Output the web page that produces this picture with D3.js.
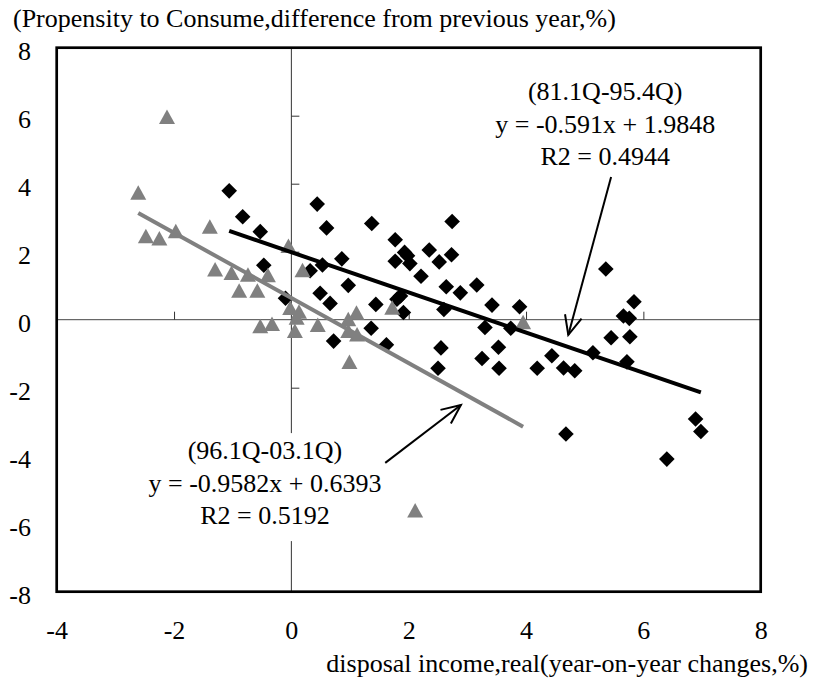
<!DOCTYPE html>
<html>
<head>
<meta charset="utf-8">
<script src="https://cdn.jsdelivr.net/npm/d3@7"></script>
<style>
  html, body { margin: 0; padding: 0; background: #fff; }
  svg text { font-family: "Liberation Serif", "Times New Roman", serif; fill: #000; }
</style>
</head>
<body>
<svg id="chart" width="815" height="680"></svg>
<script>
// ---- data ----
const xTicks = [-4, -2, 0, 2, 4, 6, 8];
const yTicks = [-8, -6, -4, -2, 0, 2, 4, 6, 8];

// 81.1Q-95.4Q : [real disposable income change, propensity to consume change]
const period1 = [
  [-1.06, 3.79], [-0.83, 3.03], [-0.53, 2.59], [-0.47, 1.60], [0.44, 3.40], [0.60, 2.70],
  [0.32, 1.44], [0.53, 1.61], [0.86, 1.79], [-0.10, 0.63], [0.49, 0.78], [0.66, 0.48],
  [0.72, -0.63], [1.37, 2.83], [2.74, 2.89], [1.77, 2.35], [1.93, 1.98], [1.98, 1.88],
  [1.77, 1.72], [2.02, 1.65], [2.35, 2.05], [2.52, 1.70], [2.73, 1.91], [2.21, 1.28],
  [0.97, 1.01], [1.44, 0.45], [1.80, 0.60], [1.86, 0.70], [1.91, 0.21], [2.64, 0.97],
  [2.88, 0.79], [3.16, 1.02], [2.60, 0.30], [3.42, 0.43], [3.89, 0.38], [3.30, -0.23],
  [3.74, -0.25], [1.36, -0.25], [1.62, -0.74], [2.55, -0.83], [3.53, -0.81], [2.50, -1.43],
  [3.25, -1.14], [3.54, -1.43], [4.19, -1.43], [4.44, -1.06], [4.64, -1.42], [4.83, -1.50],
  [4.68, -3.36], [5.36, 1.49], [5.84, 0.53], [5.66, 0.11], [5.76, 0.04], [5.45, -0.53],
  [5.77, -0.50], [5.14, -0.97], [5.72, -1.24], [6.89, -2.92], [6.98, -3.29], [6.40, -4.10]
];

// 96.1Q-03.1Q
const period2 = [
  [-2.12, 5.95], [-2.61, 3.72], [-2.48, 2.44], [-2.25, 2.37], [-1.97, 2.59], [-1.39, 2.72],
  [-1.30, 1.46], [-1.02, 1.36], [-0.74, 1.31], [-0.40, 1.29], [-0.89, 0.84], [-0.58, 0.84],
  [-0.05, 2.15], [0.19, 1.44], [-0.02, 0.33], [0.13, 0.22], [0.09, 0.04], [-0.53, -0.21],
  [-0.33, -0.14], [0.06, -0.35], [0.45, -0.17], [0.97, 0.00], [1.11, 0.19], [0.97, -0.35],
  [1.12, -0.45], [0.99, -1.26], [1.72, 0.34], [3.95, -0.09], [2.11, -5.63]
];

const seriesNames = ["(81.1Q-95.4Q)", "(96.1Q-03.1Q)"];
const slopes = [-0.591, -0.9582];
const intercepts = [1.9848, 0.6393];
const r2 = [0.4944, 0.5192];

const yTitle = "(Propensity to Consume,difference from previous year,%)";
const xTitle = "disposal income,real(year-on-year changes,%)";

// ---- layout ----
const svg = d3.select("#chart");
const L = 56.7, R = 760.7, T = 47.7, B = 591.7;
const x = d3.scaleLinear().domain([-4, 8]).range([L, R]);
const y = d3.scaleLinear().domain([-8, 8]).range([B, T]);
const FS = 26;
const SERIF = '"Liberation Serif", "Times New Roman", serif';

// y title
svg.append("text").attr("x", 13).attr("y", 27).attr("font-size", FS).text(yTitle);

// inner zero axes
svg.append("line").attr("x1", x(0)).attr("x2", x(0)).attr("y1", T).attr("y2", B)
  .attr("stroke", "#333").attr("stroke-width", 1);
svg.append("line").attr("x1", L).attr("x2", R).attr("y1", y(0)).attr("y2", y(0))
  .attr("stroke", "#444").attr("stroke-width", 1);

const vAx = svg.append("g").attr("transform", `translate(${x(0)},0)`)
  .call(d3.axisRight(y).tickValues(yTicks.filter(v => v !== 0 && Math.abs(v) !== 8)).tickSize(8).tickFormat(""));
vAx.select(".domain").remove();
vAx.selectAll("line").attr("stroke", "#333");
const hAx = svg.append("g").attr("transform", `translate(0,${y(0)})`)
  .call(d3.axisTop(x).tickValues(xTicks.filter(v => v !== 0 && v !== -4 && v !== 8)).tickSize(8).tickFormat(""));
hAx.select(".domain").remove();
hAx.selectAll("line").attr("stroke", "#333");

// tick labels
const fmtTick = d => String(d);
const yLab = svg.append("g").attr("transform", `translate(31,3)`)
  .call(d3.axisLeft(y).tickValues(yTicks).tickSize(0).tickPadding(0).tickFormat(fmtTick));
yLab.attr("font-family", SERIF).attr("font-size", FS);
yLab.select(".domain").remove();
yLab.selectAll("text").attr("dy", "0.34em").attr("fill", "#000");

const xLab = svg.append("g").attr("transform", `translate(0,${B})`)
  .call(d3.axisBottom(x).tickValues(xTicks).tickSize(0).tickPadding(0).tickFormat(fmtTick));
xLab.attr("font-family", SERIF).attr("font-size", FS);
xLab.select(".domain").remove();
xLab.selectAll("text").attr("y", 47).attr("dy", 0).attr("fill", "#000");

// x title
svg.append("text").attr("x", 808).attr("y", 672).attr("text-anchor", "end")
  .attr("font-size", FS).text(xTitle);

// markers
const diamond = "M0,-7.8L7.8,0L0,7.8L-7.8,0Z";
const triangle = "M0,-8L8,6.5L-8,6.5Z";

svg.append("g").selectAll("path").data(period1).join("path")
  .attr("d", diamond)
  .attr("transform", d => `translate(${x(d[0])},${y(d[1])})`)
  .attr("fill", "#000");

svg.append("g").selectAll("path").data(period2).join("path")
  .attr("d", triangle)
  .attr("transform", d => `translate(${x(d[0])},${y(d[1])})`)
  .attr("fill", "#808080");

// trend lines
[period1, period2].forEach((pts, i) => {
  const ext = d3.extent(pts, d => d[0]);
  svg.append("line")
    .attr("x1", x(ext[0])).attr("y1", y(slopes[i] * ext[0] + intercepts[i]))
    .attr("x2", x(ext[1])).attr("y2", y(slopes[i] * ext[1] + intercepts[i]))
    .attr("stroke", i === 0 ? "#000" : "#808080")
    .attr("stroke-width", 4);
});

// annotation text boxes
const fmtEq = (m, b) => `y = ${m}x + ${b}`;
const boxes = [
  { cx: 5.35, y0: 6.46, i: 0 },
  { cx: -0.45, y0: -4.10, i: 1 }
];
boxes.forEach(bx => {
  const lines = [seriesNames[bx.i], fmtEq(slopes[bx.i], intercepts[bx.i]), `R2 = ${r2[bx.i]}`];
  const cx = x(bx.cx), by = y(bx.y0);
  svg.append("rect").attr("x", cx - 128).attr("y", by - 26).attr("width", 256).attr("height", 108)
    .attr("fill", "#fff");
  lines.forEach((t, k) => {
    svg.append("text").attr("x", cx).attr("y", by + k * 32.5).attr("text-anchor", "middle")
      .attr("font-size", FS).text(t);
  });
});

// arrows
const arrows = [
  { from: [5.45, 4.20], to: [4.72, -0.45] },
  { from: [1.60, -4.21], to: [2.89, -2.51] }
];
arrows.forEach(a => {
  const x1 = x(a.from[0]), y1 = y(a.from[1]), x2 = x(a.to[0]), y2 = y(a.to[1]);
  svg.append("line").attr("x1", x1).attr("y1", y1).attr("x2", x2).attr("y2", y2)
    .attr("stroke", "#000").attr("stroke-width", 2);
  const ang = Math.atan2(y2 - y1, x2 - x1);
  const hl = 21, spread = 0.42;
  const p1 = [x2 - hl * Math.cos(ang - spread), y2 - hl * Math.sin(ang - spread)];
  const p2 = [x2 - hl * Math.cos(ang + spread), y2 - hl * Math.sin(ang + spread)];
  svg.append("path").attr("d", `M${p1[0]},${p1[1]}L${x2},${y2}L${p2[0]},${p2[1]}`)
    .attr("fill", "none").attr("stroke", "#000").attr("stroke-width", 2);
});

// frame
svg.append("rect").attr("x", L).attr("y", T).attr("width", R - L).attr("height", B - T)
  .attr("fill", "none").attr("stroke", "#000").attr("stroke-width", 2.7);
</script>
</body>
</html>
